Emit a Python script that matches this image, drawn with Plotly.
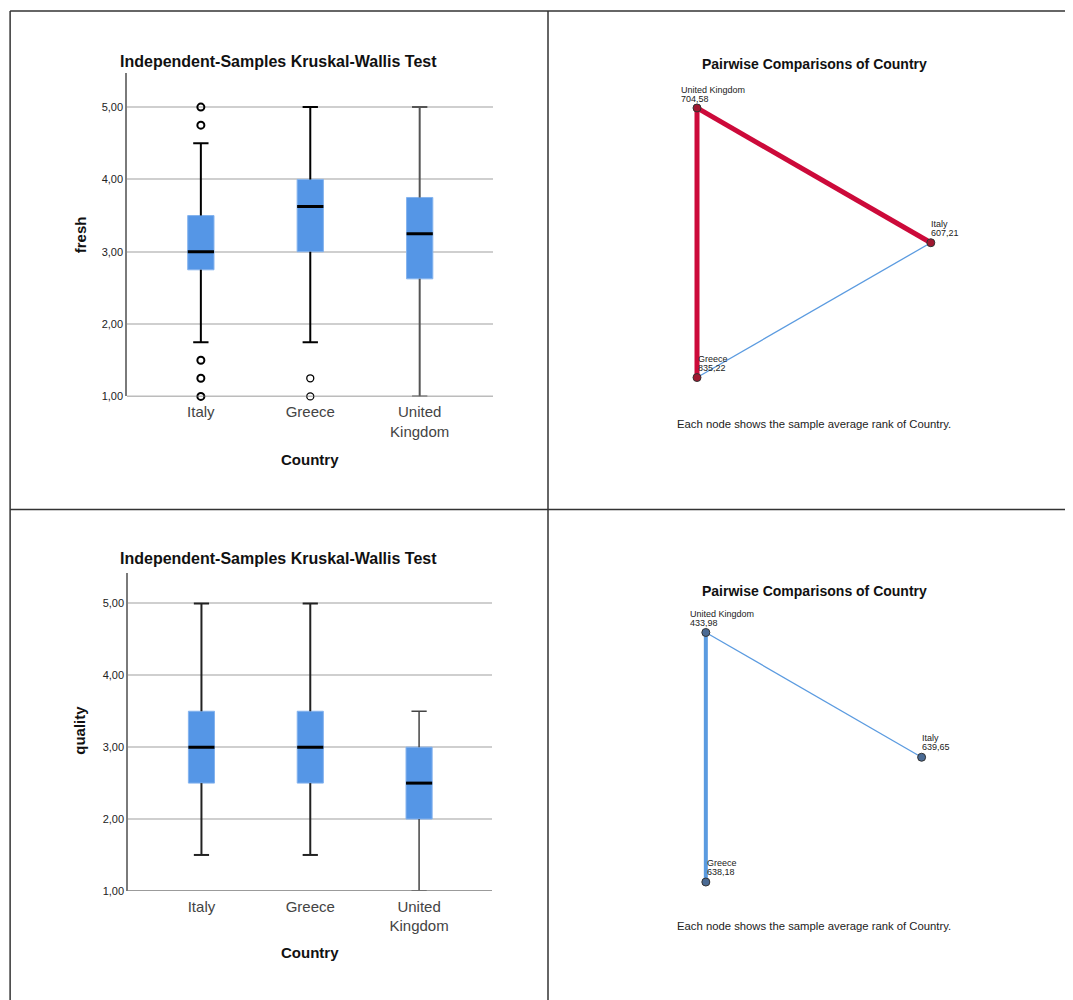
import plotly.graph_objects as go

# ---------------- DATA ----------------
countries = ["Italy", "Greece", "United Kingdom"]
tick_text = ["Italy", "Greece", "United<br>Kingdom"]

# fresh (box plot summary values)
fresh_low = [1.75, 1.75, 1.0]
fresh_q1 = [2.75, 3.0, 2.625]
fresh_median = [3.0, 3.625, 3.25]
fresh_q3 = [3.5, 4.0, 3.75]
fresh_high = [4.5, 5.0, 5.0]
fresh_outliers_italy = [5.0, 4.75, 1.5, 1.25, 1.0]
fresh_outliers_greece = [1.25, 1.0]
fresh_outliers_uk = []

# quality (box plot summary values)
quality_low = [1.5, 1.5, 1.0]
quality_q1 = [2.5, 2.5, 2.0]
quality_median = [3.0, 3.0, 2.5]
quality_q3 = [3.5, 3.5, 3.0]
quality_high = [5.0, 5.0, 3.5]

y_ticks = [1, 2, 3, 4, 5]

# pairwise comparisons (average ranks)
pw_nodes = ["United Kingdom", "Italy", "Greece"]
fresh_ranks = [704.58, 607.21, 835.22]
quality_ranks = [433.98, 639.65, 638.18]

fresh_edges = [("United Kingdom", "Italy"), ("United Kingdom", "Greece"), ("Greece", "Italy")]
fresh_edge_sig = [True, True, False]
fresh_edge_strong = [True, True, False]

quality_edges = [("United Kingdom", "Italy"), ("United Kingdom", "Greece")]
quality_edge_sig = [False, False]
quality_edge_strong = [False, True]

# ---------------- STYLE ----------------
OFF = 8  # page body margin
W, H = 1073 - 2 * OFF, 1000
VS = 0.993  # observed vertical scale of the photographed page
FONT = "Liberation Sans, Arial, sans-serif"
BOX_FILL = "#5596e6"
BOX_EDGE = "#84b3ee"
RED = "#cc0a3a"
BLUE = "#5b9be0"

node_layout = {"United Kingdom": (0.0, 1.0), "Italy": (0.866, 0.5), "Greece": (0.0, 0.0)}


def px_x(p):
    return (p - OFF) / W


def px_y(p):
    return 1 - (p - OFF) / (VS * H)


fig = go.Figure()


def add_box_panel(xa, ya, low, q1, med, q3, high, outliers, whisker_colors):
    idx = list(range(len(countries)))
    fig.add_trace(go.Bar(
        x=idx, y=[b - a for a, b in zip(q1, q3)], base=q1, width=0.24,
        marker=dict(color=BOX_FILL, line=dict(color=BOX_EDGE, width=1)),
        xaxis=xa, yaxis=ya, showlegend=False, hoverinfo="skip"))
    cap = 0.07
    for i in idx:
        wx = [i, i, None, i, i, None, i - cap, i + cap, None, i - cap, i + cap]
        wy = [low[i], q1[i], None, q3[i], high[i], None, low[i], low[i], None, high[i], high[i]]
        col, wd = whisker_colors[i]
        fig.add_trace(go.Scatter(x=wx, y=wy, mode="lines", line=dict(color=col, width=wd),
                                 xaxis=xa, yaxis=ya, showlegend=False, hoverinfo="skip"))
        fig.add_trace(go.Scatter(x=[i - 0.12, i + 0.12], y=[med[i], med[i]], mode="lines",
                                 line=dict(color="black", width=3),
                                 xaxis=xa, yaxis=ya, showlegend=False, hoverinfo="skip"))
    for i, (vals, lw) in enumerate(outliers):
        if vals:
            fig.add_trace(go.Scatter(x=[i] * len(vals), y=vals, mode="markers",
                                     marker=dict(symbol="circle-open", size=7, color="black",
                                                 line=dict(width=lw)),
                                     xaxis=xa, yaxis=ya, showlegend=False, hoverinfo="skip",
                                     cliponaxis=False))


add_box_panel("x", "y", fresh_low, fresh_q1, fresh_median, fresh_q3, fresh_high,
              [(fresh_outliers_italy, 2), (fresh_outliers_greece, 1.3), (fresh_outliers_uk, 1.3)],
              [("black", 2), ("black", 2), ("#555555", 2)])
add_box_panel("x2", "y2", quality_low, quality_q1, quality_median, quality_q3, quality_high,
              [([], 1), ([], 1), ([], 1)],
              [("#222222", 2), ("#222222", 2), ("#444444", 1.5)])


def add_network(xa, ya, ranks, edges, sig, strong, node_color):
    for (a, b), s, st in zip(edges, sig, strong):
        xa_, ya_ = node_layout[a]
        xb_, yb_ = node_layout[b]
        col = RED if s else BLUE
        wd = (5 if s else 4) if st else 1.3
        fig.add_trace(go.Scatter(x=[xa_, xb_], y=[ya_, yb_], mode="lines",
                                 line=dict(color=col, width=wd),
                                 xaxis=xa, yaxis=ya, showlegend=False, hoverinfo="skip"))
    nx = [node_layout[n][0] for n in pw_nodes]
    ny = [node_layout[n][1] for n in pw_nodes]
    fig.add_trace(go.Scatter(x=nx, y=ny, mode="markers",
                             marker=dict(size=8, color=node_color, line=dict(color="#333333", width=1)),
                             xaxis=xa, yaxis=ya, showlegend=False, hoverinfo="skip", cliponaxis=False))
    shifts = {"United Kingdom": (-17, 3), "Italy": (-1, 4), "Greece": (0, 4)}
    for n, r in zip(pw_nodes, ranks):
        x0, y0 = node_layout[n]
        rank_txt = f"{r:.2f}".replace(".", ",")
        for line_txt, extra in [(rank_txt, 0), (n, 9)]:
            fig.add_annotation(x=x0, y=y0, xref=xa, yref=ya, text=line_txt, showarrow=False,
                               xanchor="left", yanchor="bottom", align="left",
                               xshift=shifts[n][0], yshift=shifts[n][1] + extra,
                               borderpad=0,
                               font=dict(family=FONT, size=9, color="#222222"))


add_network("x3", "y3", fresh_ranks, fresh_edges, fresh_edge_sig, fresh_edge_strong, "#a01830")
add_network("x4", "y4", quality_ranks, quality_edges, quality_edge_sig, quality_edge_strong, "#4a6a94")

# ---------------- AXES ----------------
box_x = dict(range=[-0.675, 2.67], tickvals=[0, 1, 2], ticktext=tick_text, showgrid=False,
             zeroline=False, showline=False, ticks="", ticklabelstandoff=5,
             tickfont=dict(family=FONT, size=15, color="#444444"), fixedrange=True)
box_y = dict(tickvals=y_ticks, tickformat=".2f", showgrid=True, gridcolor="#cfcfcf", gridwidth=1.5,
             zeroline=False, showline=True, linecolor="#7a7a7a", linewidth=1.5, ticks="",
             tickfont=dict(family=FONT, size=11, color="#222222"), fixedrange=True)

fig.update_layout(
    width=W, height=H, margin=dict(l=0, r=0, t=0, b=0),
    paper_bgcolor="white", plot_bgcolor="white", separators=",.",
    showlegend=False,
    xaxis=dict(box_x, domain=[px_x(127), px_x(493)], anchor="y"),
    yaxis=dict(box_y, domain=[px_y(396), px_y(73)], range=[1, 5.47], anchor="x"),
    xaxis2=dict(box_x, domain=[px_x(128), px_x(492)], anchor="y2"),
    yaxis2=dict(box_y, domain=[px_y(890), px_y(572)], range=[1, 5.43], anchor="x2"),
    xaxis3=dict(visible=False, range=[-0.2, 1.0], domain=[px_x(643), px_x(967)], anchor="y3", fixedrange=True),
    yaxis3=dict(visible=False, range=[-0.2, 1.2], domain=[px_y(431), px_y(54)], anchor="x3", fixedrange=True),
    xaxis4=dict(visible=False, range=[-0.2, 1.0], domain=[px_x(656), px_x(955)], anchor="y4", fixedrange=True),
    yaxis4=dict(visible=False, range=[-0.2, 1.2], domain=[px_y(931), px_y(582)], anchor="x4", fixedrange=True),
)

# x axis base lines at y = 1
for xa, ya in [("x", "y"), ("x2", "y2")]:
    fig.add_shape(type="line", xref=f"{xa} domain", yref=ya, x0=0, x1=1, y0=1, y1=1,
                  line=dict(color="#7a7a7a", width=1.5))


# ---------------- TEXT ----------------
def ann(x, y, text, size, bold=False, angle=0, color="#111111"):
    fig.add_annotation(x=px_x(x), y=px_y(y), xref="paper", yref="paper",
                       text=f"<b>{text}</b>" if bold else text,
                       showarrow=False, xanchor="center", yanchor="middle", textangle=angle,
                       font=dict(family=FONT, size=size, color=color))


ann(278, 61, "Independent-Samples Kruskal-Wallis Test", 16, True)
ann(278, 558, "Independent-Samples Kruskal-Wallis Test", 16, True)
ann(80, 235, "fresh", 15, True, -90)
ann(80, 730, "quality", 15, True, -90)
ann(310, 459, "Country", 15, True)
ann(310, 952, "Country", 15, True)
ann(814, 64, "Pairwise Comparisons of Country", 14, True)
ann(814, 590, "Pairwise Comparisons of Country", 14, True)
ann(814, 424, "Each node shows the sample average rank of Country.", 11.3, False, 0, "#222222")
ann(814, 925, "Each node shows the sample average rank of Country.", 11.3, False, 0, "#222222")

# ---------------- BORDERS ----------------
for s in [
    dict(x0=0.002, x1=1, y0=px_y(11), y1=px_y(11)),
    dict(x0=px_x(548), x1=px_x(548), y0=px_y(11), y1=0),
    dict(x0=0.002, x1=1, y0=px_y(509), y1=px_y(509)),
    dict(x0=0.002, x1=0.002, y0=px_y(11), y1=0),
]:
    fig.add_shape(type="line", xref="paper", yref="paper", line=dict(color="#333333", width=1.5), **s)

fig.write_html("out.html")
